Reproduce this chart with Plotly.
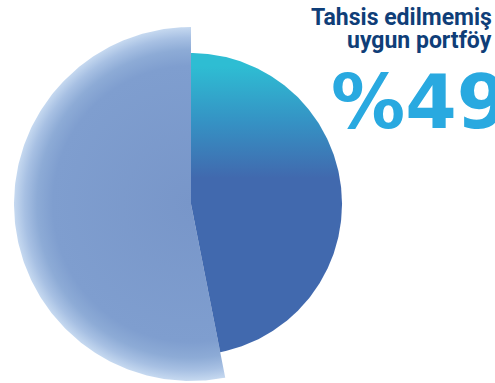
import numpy as np
import plotly.graph_objects as go

# ---- data ----
labels = ["Tahsis edilmemiş uygun portföy", "Diğer portföy"]
shares = [46.9, 53.1]          # share of the circle taken by each slice
title_lines = ["Tahsis edilmemiş", "uygun portföy"]
value_label = "%49"

# ---- layout constants ----
W, H = 495, 383
CX, CY = 191, H - 204
radii = [151, 177]

def wedge(f0, f1, r, n=240, spike=False):
    th = np.linspace(f0, f1, n) * 2 * np.pi
    xs = [CX] + list(CX + r * np.sin(th)) + [CX]
    ys = [CY] + list(CY + r * np.cos(th)) + [CY]
    if spike:  # zero-area spike so the fill's bounding box is centred on the pie centre
        xs += [CX + r, CX]
        ys += [CY, CY]
    return xs, ys

total = sum(shares)
cum = np.concatenate([[0], np.cumsum(shares)]) / total

fig = go.Figure()

# larger (left) slice with radial gradient
x1, y1 = wedge(cum[1], cum[2], radii[1], spike=True)
fig.add_trace(go.Scatter(
    x=x1, y=y1, mode="lines", fill="toself", line=dict(width=0),
    fillgradient=dict(type="radial", colorscale=[
        [0, "#7896c9"], [0.78, "#7f9ecf"], [0.87, "#8dabd6"],
        [0.94, "#a7c0e3"], [1, "#c6d9f0"]]),
    hoverinfo="skip", name=labels[1]))

# smaller (right) slice with vertical gradient
x0, y0 = wedge(cum[0], cum[1], radii[0])
fig.add_trace(go.Scatter(
    x=x0, y=y0, mode="lines", fill="toself", line=dict(width=0),
    fillgradient=dict(type="vertical", start=H - 178, stop=H - 66,
                      colorscale=[[0, "#4169ae"], [0.5, "#3592c4"], [1, "#2ebdd3"]]),
    hoverinfo="skip", name=labels[0]))

fig.add_annotation(x=494, y=H - 17.5, xref="x", yref="y", text=f"<b>{title_lines[0]}</b>",
                   showarrow=False, xanchor="right", yanchor="middle",
                   font=dict(family="Roboto", size=23, color="#0f3e78"))
fig.add_annotation(x=494, y=H - 40, xref="x", yref="y", text=f"<b>{title_lines[1]}</b>",
                   showarrow=False, xanchor="right", yanchor="middle",
                   font=dict(family="Roboto", size=23, color="#0f3e78"))
fig.add_annotation(x=329, y=H - 102, xref="x", yref="y", text=f"<b>{value_label}</b>",
                   showarrow=False, xanchor="left", yanchor="middle",
                   font=dict(family="DejaVu Sans", size=74, color="#29a9e0"))

fig.update_layout(
    width=W, height=H, margin=dict(l=0, r=0, t=0, b=0),
    paper_bgcolor="white", plot_bgcolor="white", showlegend=False,
    xaxis=dict(range=[0, W], visible=False, fixedrange=True),
    yaxis=dict(range=[0, H], visible=False, fixedrange=True),
)
fig.write_html("out.html")
